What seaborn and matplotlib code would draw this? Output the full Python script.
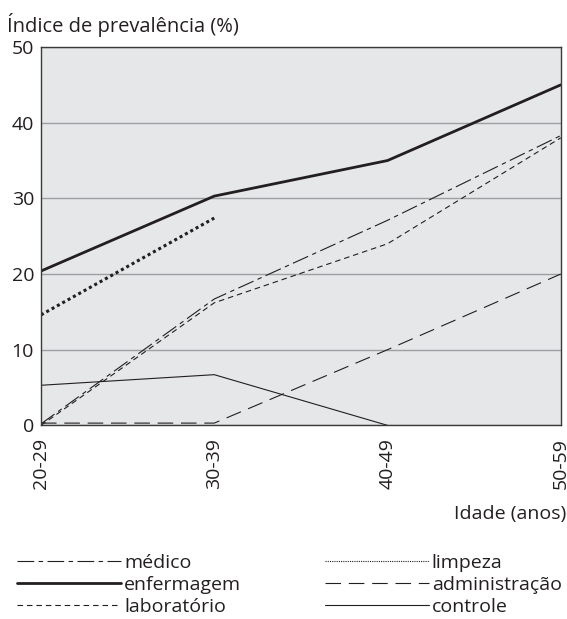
import numpy as np
import pandas as pd
import seaborn as sns
import matplotlib.pyplot as plt

AGES = ["20-29", "30-39", "40-49", "50-59"]
GROUPS = ["médico", "enfermagem", "laboratório", "limpeza", "administração", "controle"]
MEDICO = [0.2, 16.7, 27.1, 38.3]
ENFERMAGEM = [20.4, 30.3, 35.0, 45.0]
LABORATORIO = [0.0, 16.2, 24.0, 38.0]
LIMPEZA = [14.6, 27.4, np.nan, np.nan]
ADMINISTRACAO = [0.3, 0.3, 10.0, 20.0]
CONTROLE = [5.3, 6.7, 0.0, np.nan]
SERIES = [MEDICO, ENFERMAGEM, LABORATORIO, LIMPEZA, ADMINISTRACAO, CONTROLE]

INK = "#231f20"
FS = 14
STYLES = {
    "médico": dict(lw=0.8, ls=(0, (15, 4, 4, 4))),
    "enfermagem": dict(lw=2.0, ls="-"),
    "laboratório": dict(lw=0.8, ls=(0, (5, 3.5))),
    "limpeza": dict(lw=2.2, ls=(0, (1, 1))),
    "administração": dict(lw=0.8, ls=(0, (14, 7))),
    "controle": dict(lw=0.8, ls="-"),
}


def main() -> None:
    df = pd.DataFrame(
        [(g, a, v) for g, vals in zip(GROUPS, SERIES) for a, v in zip(AGES, vals)],
        columns=["grupo", "idade", "valor"],
    )

    sns.set_theme(style="white")
    plt.rcParams["font.family"] = ["Open Sans", "DejaVu Sans"]
    plt.rcParams["text.color"] = INK

    fig = plt.figure(figsize=(5.67, 6.19), dpi=100)
    ax = fig.add_axes([0.0723, 0.3128, 0.9167, 0.6112])
    ax.set_facecolor("#e6e7e8")

    for g in GROUPS:
        sub = df[df["grupo"] == g].dropna()
        st = STYLES[g]
        sns.lineplot(data=sub, x="idade", y="valor", ax=ax, color=INK,
                     linewidth=st["lw"], linestyle=st["ls"], label=g,
                     sort=False, legend=False)

    ax.set_xlim(0, 3)
    ax.set_ylim(0, 50)
    ax.set_yticks([0, 10, 20, 30, 40, 50])
    ax.yaxis.grid(True, color="#9d9fa2", lw=1)
    ax.xaxis.grid(False)
    ax.set_axisbelow(True)
    for s in ax.spines.values():
        s.set_color("#3a3a3a")
        s.set_linewidth(1)
    ax.tick_params(axis="both", length=0, labelsize=FS, labelcolor=INK)
    ax.tick_params(axis="y", pad=5)
    ax.tick_params(axis="x", pad=9)
    plt.setp(ax.get_xticklabels(), rotation=90)
    ax.set_xlabel("")
    ax.set_ylabel("")

    fig.text(0.012, 0.948, "Índice de prevalência (%)", fontsize=FS + 0.5, color=INK, va="baseline")
    fig.text(0.999, 0.162, "Idade (anos)", fontsize=FS, color=INK, ha="right", va="baseline")

    handles, labels = ax.get_legend_handles_labels()
    leg = fig.legend(handles, labels, loc="upper left", bbox_to_anchor=(0.03, 0.105),
                     ncol=2, frameon=False, fontsize=FS, handlelength=5.35,
                     handletextpad=0.15, columnspacing=4.3, labelspacing=0.2,
                     borderaxespad=0, borderpad=0)
    leg.get_lines()[3].set_linewidth(0.8)

    fig.savefig("out.png", dpi=100)
    plt.close(fig)


if __name__ == "__main__":
    main()
